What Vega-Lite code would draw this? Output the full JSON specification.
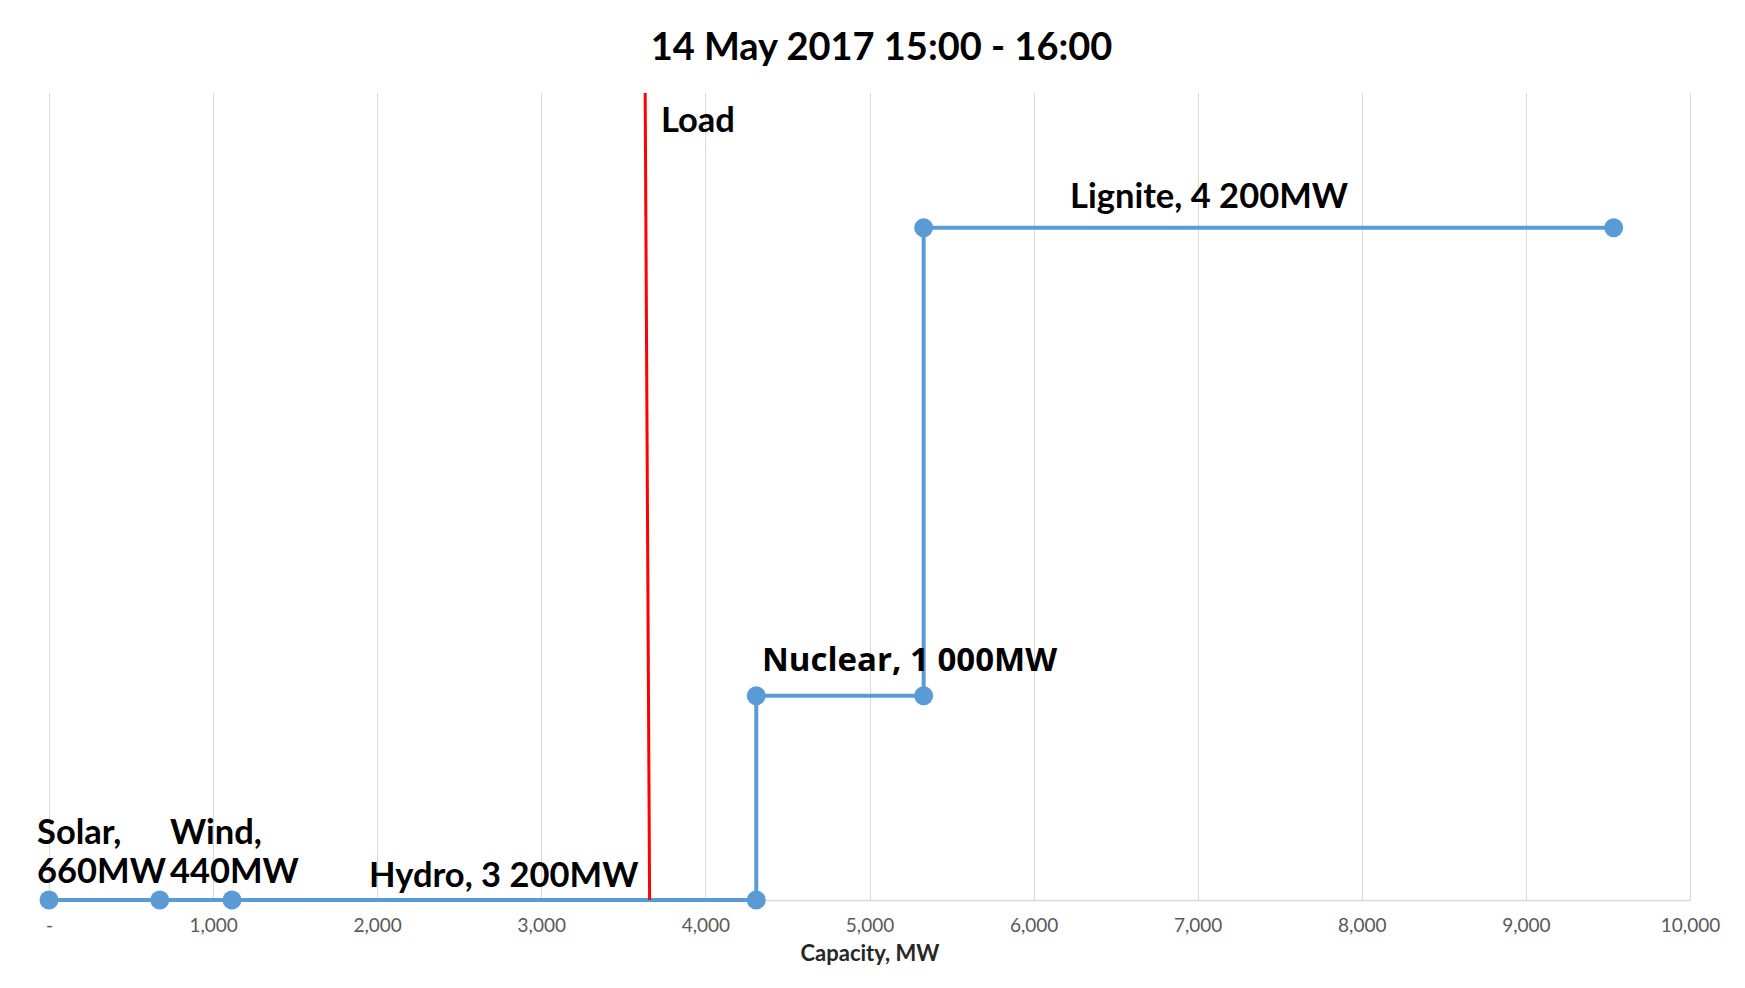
{
  "$schema": "https://vega.github.io/schema/vega-lite/v6.json",
  "width": 1641,
  "height": 807,
  "autosize": "none",
  "padding": {"left": 49, "top": 93, "right": 55, "bottom": 88},
  "background": "white",
  "title": {
    "text": "14 May 2017 15:00 - 16:00",
    "font": "Lato",
    "fontSize": 38,
    "fontWeight": "bold",
    "color": "#000000",
    "anchor": "middle",
    "offset": 24,
    "dx": 12
  },
  "datasets": {
    "steps": [
      {"seq": 1, "cap": 0, "price": 0},
      {"seq": 2, "cap": 675, "price": 0},
      {"seq": 3, "cap": 1115, "price": 0},
      {"seq": 4, "cap": 4310, "price": 0},
      {"seq": 5, "cap": 4310, "price": 25.3},
      {"seq": 6, "cap": 5330, "price": 25.3},
      {"seq": 7, "cap": 5330, "price": 83.3},
      {"seq": 8, "cap": 9535, "price": 83.3}
    ],
    "load": [
      {"cap": 3633, "price": 100, "cap2": 3660, "price2": 0}
    ],
    "labels": [
      {"label": "Load", "cap": 3729, "price": 96.4, "font": "calibri"},
      {"label": "Lignite, 4 200MW", "cap": 6222, "price": 87.0, "font": "calibri"},
      {"label": "Nuclear, 1 000MW", "cap": 4345, "price": 29.6, "font": "wide"},
      {"label": "Solar,", "cap": -73, "price": 8.2, "font": "calibri"},
      {"label": "660MW", "cap": -73, "price": 3.3, "font": "calibri"},
      {"label": "Wind,", "cap": 737, "price": 8.2, "font": "calibri"},
      {"label": "440MW", "cap": 737, "price": 3.3, "font": "calibri"},
      {"label": "Hydro, 3 200MW", "cap": 1950, "price": 2.8, "font": "calibri"}
    ]
  },
  "layer": [
    {
      "data": {"name": "steps"},
      "mark": {"type": "line", "color": "#5B9BD5", "strokeWidth": 4, "clip": false},
      "encoding": {
        "x": {
          "field": "cap",
          "type": "quantitative",
          "scale": {"domain": [0, 10000], "nice": false, "zero": false},
          "axis": {
            "values": [0, 1000, 2000, 3000, 4000, 5000, 6000, 7000, 8000, 9000, 10000],
            "labelExpr": "datum.value == 0 ? '-' : format(datum.value, ',')",
            "grid": true,
            "gridColor": "#d9d9d9",
            "gridWidth": 1,
            "domainColor": "#d9d9d9",
            "domainWidth": 1.5,
            "ticks": false,
            "labelFont": "Lato",
            "labelFontSize": 19,
            "labelColor": "#595959",
            "labelPadding": 16,
            "labelFlush": false,
            "title": "Capacity, MW",
            "titleFont": "Lato",
            "titleFontSize": 22,
            "titleFontWeight": "bold",
            "titleColor": "#262626",
            "titlePadding": 8
          }
        },
        "y": {
          "field": "price",
          "type": "quantitative",
          "scale": {"domain": [0, 100], "nice": false},
          "axis": null
        },
        "order": {"field": "seq", "type": "quantitative"}
      }
    },
    {
      "data": {"name": "steps"},
      "mark": {"type": "point", "filled": true, "shape": "circle", "size": 360, "color": "#5B9BD5", "opacity": 1, "clip": false},
      "encoding": {
        "x": {"field": "cap", "type": "quantitative"},
        "y": {"field": "price", "type": "quantitative"}
      }
    },
    {
      "data": {"name": "load"},
      "mark": {"type": "rule", "color": "#FF0000", "strokeWidth": 3},
      "encoding": {
        "x": {"field": "cap", "type": "quantitative"},
        "y": {"field": "price", "type": "quantitative"},
        "x2": {"field": "cap2"},
        "y2": {"field": "price2"}
      }
    },
    {
      "data": {"name": "labels"},
      "transform": [{"filter": "datum.font == 'calibri'"}],
      "mark": {"type": "text", "align": "left", "baseline": "middle", "font": "Lato", "fontSize": 34.5, "fontWeight": "bold", "color": "#000000", "clip": false},
      "encoding": {
        "x": {"field": "cap", "type": "quantitative"},
        "y": {"field": "price", "type": "quantitative"},
        "text": {"field": "label"}
      }
    },
    {
      "data": {"name": "labels"},
      "transform": [{"filter": "datum.font == 'wide'"}],
      "mark": {"type": "text", "align": "left", "baseline": "middle", "font": "Open Sans", "fontSize": 33, "fontWeight": "bold", "color": "#000000", "clip": false},
      "encoding": {
        "x": {"field": "cap", "type": "quantitative"},
        "y": {"field": "price", "type": "quantitative"},
        "text": {"field": "label"}
      }
    }
  ],
  "config": {
    "view": {"stroke": null}
  }
}
